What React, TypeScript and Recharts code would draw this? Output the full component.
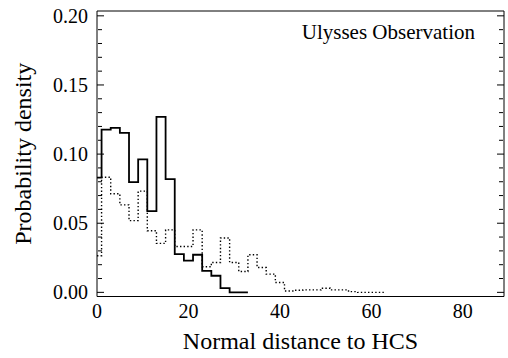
import { LineChart, Line, XAxis, YAxis } from "recharts";

// histogram bin left edges (last entry closes the final bin)
const binEdges = [
  0, 1, 3, 5, 7, 9, 11, 13, 15, 17, 19, 21, 23, 25, 27, 29, 31, 33, 35, 37, 39,
  41, 43, 45, 47, 49, 51, 53, 55, 57, 59, 61, 63,
];

const solidDensity = [
  0.083, 0.1177, 0.1189, 0.1153, 0.0797, 0.0962, 0.0587, 0.1269, 0.0819,
  0.0277, 0.0229, 0.0272, 0.0156, 0.012, 0.003, 0, 0,
];

const dottedDensity = [
  0.0265, 0.0833, 0.0713, 0.0633, 0.0519, 0.0732, 0.0446, 0.0354, 0.0452,
  0.0332, 0.0332, 0.0452, 0.0185, 0.0216, 0.0393, 0.0216, 0.0151, 0.0272,
  0.018, 0.0132, 0.0071, 0.001, 0.0015, 0.0018, 0.0018, 0.003, 0.0018, 0.0018,
  0.0005, 0, 0, 0,
];

const xTicks = [0, 20, 40, 60, 80];
const xMinorTicks = [5, 10, 15, 25, 30, 35, 45, 50, 55, 65, 70, 75, 85];
const yTicks = [0, 0.05, 0.1, 0.15, 0.2];
const yMinorTicks = [
  0.01, 0.02, 0.03, 0.04, 0.06, 0.07, 0.08, 0.09, 0.11, 0.12, 0.13, 0.14, 0.16,
  0.17, 0.18, 0.19,
];

const X_DOMAIN = [0, 89];
const Y_DOMAIN = [-0.003, 0.2035];
const FONT = "Liberation Serif, Times, DejaVu Serif, serif";

const toSteps = (values: number[]) =>
  values
    .map((v, i) => ({ x: binEdges[i], y: v }))
    .concat({ x: binEdges[values.length], y: values[values.length - 1] });

const solidData = toSteps(solidDensity);
const dottedData = toSteps(dottedDensity);

const blank = () => "";

const App = () => {
  // mirrored axes only draw the frame and the inward tick marks
  const tickAxis = {
    type: "number" as const,
    allowDataOverflow: true,
    interval: 0 as const,
    tickFormatter: blank,
    mirror: true,
    stroke: "#000",
  };
  const textStyle = { fontFamily: FONT, fill: "#000" };
  return (
    <div style={{ position: "absolute", left: 0, top: 0, width: 508, height: 358, fontFamily: FONT }}>
      <LineChart width={508} height={358} margin={{ top: 11, right: 4, bottom: 0, left: 0 }}>
        <XAxis {...tickAxis} xAxisId="bMaj" orientation="bottom" domain={X_DOMAIN} ticks={xTicks} tickSize={7} height={1} />
        <XAxis {...tickAxis} xAxisId="bMin" orientation="bottom" domain={X_DOMAIN} ticks={xMinorTicks} tickSize={4} height={1} axisLine={false} />
        <XAxis {...tickAxis} xAxisId="tMaj" orientation="top" domain={X_DOMAIN} ticks={xTicks} tickSize={7} height={1} />
        <XAxis {...tickAxis} xAxisId="tMin" orientation="top" domain={X_DOMAIN} ticks={xMinorTicks} tickSize={4} height={1} axisLine={false} />
        <YAxis {...tickAxis} yAxisId="lMaj" orientation="left" domain={Y_DOMAIN} ticks={yTicks} tickSize={7} width={1} />
        <YAxis {...tickAxis} yAxisId="lMin" orientation="left" domain={Y_DOMAIN} ticks={yMinorTicks} tickSize={4} width={1} axisLine={false} />
        <YAxis {...tickAxis} yAxisId="rMaj" orientation="right" domain={Y_DOMAIN} ticks={yTicks} tickSize={7} width={1} />
        <YAxis {...tickAxis} yAxisId="rMin" orientation="right" domain={Y_DOMAIN} ticks={yMinorTicks} tickSize={4} width={1} axisLine={false} />

        <XAxis
          xAxisId="main"
          type="number"
          dataKey="x"
          domain={X_DOMAIN}
          ticks={xTicks}
          interval={0}
          allowDataOverflow
          height={61.5}
          axisLine={false}
          tickLine={false}
          tickSize={0}
          tickMargin={7}
          tick={{ fontSize: 20, ...textStyle }}
          label={{
            value: "Normal distance to HCS",
            position: "insideBottom",
            offset: 9,
            style: { fontSize: 24, ...textStyle },
          }}
        />
        <YAxis
          yAxisId="main"
          type="number"
          domain={Y_DOMAIN}
          ticks={yTicks}
          interval={0}
          allowDataOverflow
          width={97}
          axisLine={false}
          tickLine={false}
          tickSize={0}
          tickMargin={9}
          tickFormatter={(v: number) => v.toFixed(2)}
          tick={{ fontSize: 20, ...textStyle }}
          label={{
            value: "Probability density",
            angle: -90,
            position: "insideLeft",
            offset: 22,
            style: { fontSize: 24, ...textStyle, textAnchor: "middle" },
          }}
        />

        <Line
          xAxisId="main"
          yAxisId="main"
          data={dottedData}
          dataKey="y"
          type="stepAfter"
          stroke="#000"
          strokeWidth={1.4}
          strokeDasharray="1.4 2.2"
          dot={false}
          isAnimationActive={false}
        />
        <Line
          xAxisId="main"
          yAxisId="main"
          data={solidData}
          dataKey="y"
          type="stepAfter"
          stroke="#000"
          strokeWidth={1.8}
          dot={false}
          isAnimationActive={false}
        />
      </LineChart>
      <div
        style={{
          position: "absolute",
          left: 0,
          top: 22,
          width: 475,
          textAlign: "right",
          fontSize: 21,
          lineHeight: "21px",
          color: "#000",
        }}
      >
        Ulysses Observation
      </div>
    </div>
  );
};

export default App;
